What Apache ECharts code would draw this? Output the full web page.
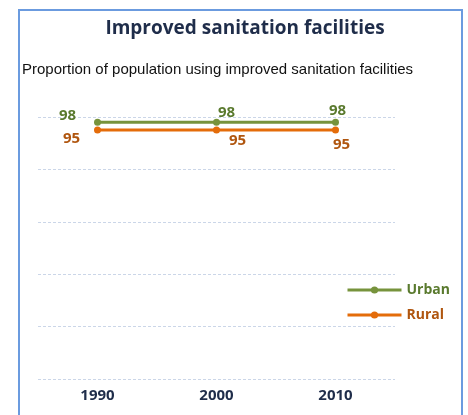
<!DOCTYPE html>
<html>
<head>
<meta charset="utf-8">
<script src="https://cdn.jsdelivr.net/npm/echarts@6/dist/echarts.min.js"></script>
<style>
html,body{margin:0;padding:0;background:#fff;}
#c{width:468px;height:415px;}
</style>
</head>
<body>
<div id="c"></div>
<script>
var years = ['1990', '2000', '2010'];
var urban = [98, 98, 98];
var rural = [95, 95, 95];
var yTicks = [0, 20, 40, 60, 80, 100];

var urbanOffsets = [[-30, -7], [10, -10], [2, -12]];
var ruralOffsets = [[-26, 9], [21, 11], [6, 15]];

var chart = echarts.init(document.getElementById('c'), null, {renderer: 'canvas'});
function mk(vals, offs) {
  return vals.map(function (v, i) {
    return {value: v, label: {offset: offs[i]}};
  });
}
var option = {
  animation: false,
  graphic: [{
    type: 'rect',
    shape: {x: 19, y: 10, width: 443, height: 420},
    style: {fill: 'none', stroke: '#6b9bdf', lineWidth: 2}
  }],
  title: [{
    text: 'Improved sanitation facilities',
    left: 245, top: 19, textAlign: 'center', padding: 0,
    textStyle: {fontFamily: 'Open Sans', fontWeight: 'bold', fontSize: 19, color: '#1f2d4a'}
  }, {
    text: 'Proportion of population using improved sanitation facilities',
    left: 22, top: 62, padding: 0,
    textStyle: {fontFamily: 'Liberation Sans', fontWeight: 'normal', fontSize: 15, color: '#111'}
  }],
  legend: {
    orient: 'vertical',
    left: 346, top: 283,
    itemWidth: 54, itemHeight: 9, itemGap: 11,
    padding: 0,
    lineStyle: {width: 3},
    textStyle: {fontFamily: 'Open Sans', fontWeight: 'bold', fontSize: 14},
    data: [
      {name: 'Urban', textStyle: {color: '#5a7a2e'}},
      {name: 'Rural', textStyle: {color: '#b0560f'}}
    ]
  },
  grid: {left: 38, right: 73, top: 117, bottom: 36, containLabel: false},
  xAxis: {
    type: 'category',
    data: years,
    boundaryGap: true,
    axisLine: {show: false},
    axisTick: {show: false},
    axisLabel: {fontFamily: 'Open Sans', fontWeight: 'bold', fontSize: 15, color: '#1f2d4a', margin: 9}
  },
  yAxis: {
    type: 'value',
    min: yTicks[0], max: yTicks[yTicks.length - 1], interval: 20,
    axisLabel: {show: false},
    axisLine: {show: false},
    axisTick: {show: false},
    splitLine: {lineStyle: {type: [3, 2], color: '#cbd6e8', width: 1}}
  },
  series: [{
    name: 'Urban',
    type: 'line',
    data: mk(urban, urbanOffsets),
    symbol: 'circle', symbolSize: 7,
    lineStyle: {color: '#77933c', width: 3},
    itemStyle: {color: '#77933c'},
    label: {show: true, position: 'inside', fontFamily: 'Open Sans', fontWeight: 'bold', fontSize: 15, color: '#5a7a2e'}
  }, {
    name: 'Rural',
    type: 'line',
    data: mk(rural, ruralOffsets),
    symbol: 'circle', symbolSize: 7,
    lineStyle: {color: '#e46c0a', width: 3},
    itemStyle: {color: '#e46c0a'},
    label: {show: true, position: 'inside', fontFamily: 'Open Sans', fontWeight: 'bold', fontSize: 15, color: '#b0560f'}
  }]
};
chart.setOption(option);
</script>
</body>
</html>
